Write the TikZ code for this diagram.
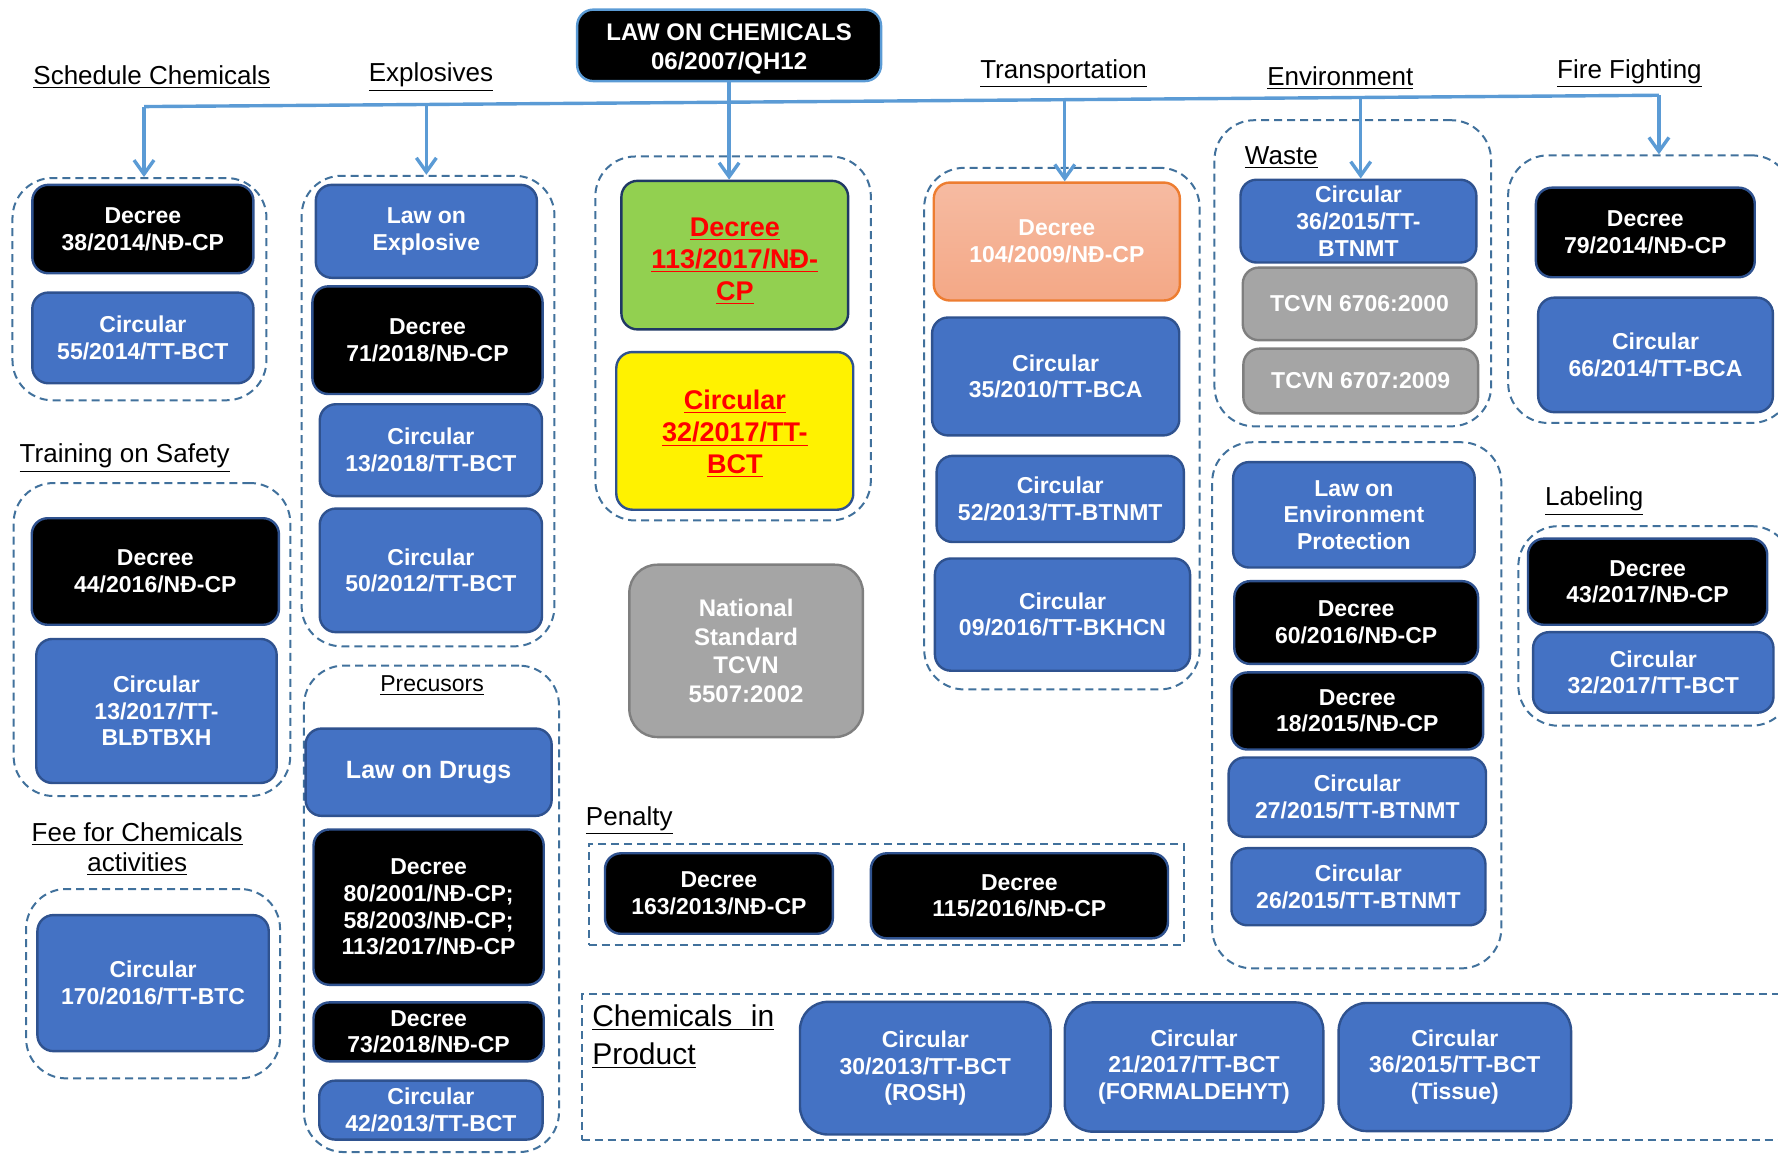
\documentclass[tikz,border=0pt]{standalone}
\usepackage{fontspec}
\setmainfont{Liberation Sans}
\usetikzlibrary{arrows.meta}
\definecolor{boxblue}{HTML}{4472C4}
\definecolor{boxline}{HTML}{2F528F}
\definecolor{grpline}{HTML}{41719C}
\definecolor{busblue}{HTML}{5B9BD5}
\definecolor{keygreen}{HTML}{92D050}
\definecolor{keyline}{HTML}{1F3864}
\definecolor{stdgrey}{HTML}{A5A5A5}
\definecolor{stdline}{HTML}{7F7F7F}
\definecolor{salmontop}{HTML}{F6BBA2}
\definecolor{salmonbot}{HTML}{F4A886}
\definecolor{salmonline}{HTML}{ED7D31}
\tikzset{
  box/.style={draw=boxline, line width=1.2pt, rounded corners=8pt, inner sep=0pt,
    align=center, text=white, font=\bfseries\fontsize{11.5}{13.3}\selectfont},
  decree/.style={box, fill=black},
  circular/.style={box, fill=boxblue},
  stdbox/.style={box, fill=stdgrey, draw=stdline},
  keybox/.style={box, draw=keyline, text=red, font=\bfseries\fontsize{13.5}{16}\selectfont},
  grp/.style={draw=grpline, line width=1pt, dash pattern=on 4pt off 2.5pt,
    rounded corners=20pt, inner sep=0pt},
  head/.style={font=\fontsize{13}{15}\selectfont, inner sep=0pt, align=center},
  drop/.style={busblue, line width=1.7pt, ->},
  sz/.style 2 args={minimum width={#1*0.567pt}, minimum height={#2*0.567pt}},
}
\begin{document}
\begin{tikzpicture}[x=0.567pt,y=-0.567pt,>={Straight Barb[length=7pt,width=10pt]}]
\useasboundingbox (0,0) rectangle (1568,1018);
% dashed groups
\node [grp, sz={224}{196}] (gsched) at (123,255) {};
\node [grp, sz={223}{415}] (gexpl) at (377.5,362.5) {};
\node [grp, sz={243}{321}] (gcent) at (646.5,298.5) {};
\node [grp, sz={243}{460}] (gtrans) at (936.5,378) {};
\node [grp, sz={244}{270}] (gwaste) at (1193,241) {};
\node [grp, sz={250}{236}] (gfire) at (1455,255) {};
\node [grp, sz={244}{276}] (gtrain) at (134,564) {};
\node [grp, sz={224}{167}] (gfee) at (135,867.5) {};
\node [grp, sz={225}{429}] (gprec) at (380.5,801.5) {};
\node [grp, sz={525}{89}, rounded corners=0pt] (gpen) at (781.5,788.5) {};
\node [grp, sz={255}{464}] (genv) at (1196.5,622) {};
\node [grp, sz={241}{176}] (glab) at (1459.5,552) {};
\node [grp, sz={1072}{128}, rounded corners=0pt] (gprod) at (1049,941) {};
% headings
\node [head] (hsched) at (134,68) {\underline{Schedule Chemicals}};
\node [head] (hexpl) at (380,68) {\underline{Explosives}};
\node [head] (htrans) at (938,65) {\underline{Transportation}};
\node [head] (henv) at (1182,69) {\underline{Environment}};
\node [head] (hfire) at (1437,65) {\underline{Fire Fighting}};
\node [head] (hwaste) at (1130,139) {\underline{Waste}};
\node [head] (htrain) at (110,404) {\underline{Training on Safety}};
\node [head] (hfee) at (121,749) {\underline{Fee for Chemicals}\\\underline{activities}};
\node [head, font=\fontsize{11.5}{13}\selectfont] (hprec) at (381,605) {\underline{Precusors}};
\node [head] (hpen) at (555,724) {\underline{Penalty}};
\node [head] (hlab) at (1406,442) {\underline{Labeling}};
\node [head, anchor=north west, align=left, font=\fontsize{15}{19}\selectfont] (hprod) at (522,886)
  {\underline{\makebox[91pt][s]{Chemicals\hfill in}}\\\underline{Product}};
% law
\node [decree, draw=busblue, font=\bfseries\fontsize{12}{14.2}\selectfont, sz={268}{63}] (law) at (643,40)
  {\rule{0pt}{12pt}LAW ON CHEMICALS\\06/2007/QH12};
% schedule chemicals
\node [decree, sz={195}{78}] (d38) at (126,202) {Decree\\38/2014/NĐ-CP};
\node [circular, sz={195}{80}] (c55) at (126,298) {Circular\\55/2014/TT-BCT};
% explosives
\node [circular, sz={195}{82}] (lexp) at (376,204) {Law on\\Explosive};
\node [decree, sz={203}{95}] (d71) at (377,300) {Decree\\71/2018/NĐ-CP};
\node [circular, sz={196}{81}] (c13b) at (380,397) {Circular\\13/2018/TT-BCT};
\node [circular, sz={196}{109}] (c50) at (380,503) {Circular\\50/2012/TT-BCT};
% centre
\node [keybox, fill=keygreen, sz={200}{131}] (d113) at (648,225)
  {\rule{0pt}{15pt}\underline{Decree}\\\underline{113/2017/NĐ-}\\\underline{CP}};
\node [keybox, fill=yellow, draw=boxline, sz={209}{139}] (c32) at (648,380)
  {\rule{0pt}{13pt}\underline{Circular}\\\underline{32/2017/TT-}\\\underline{BCT}};
\node [stdbox, font=\bfseries\fontsize{12}{14.4}\selectfont, rounded corners=14pt, sz={206}{152}] (t5507) at (658,574)
  {National\\Standard\\TCVN\\5507:2002};
% transportation
\node [box, draw=salmonline, top color=salmontop, bottom color=salmonbot, sz={217}{104}] (d104) at (932,213)
  {Decree\\104/2009/NĐ-CP};
\node [circular, sz={218}{104}] (c35) at (931,332) {Circular\\35/2010/TT-BCA};
\node [circular, sz={218}{76}] (c52) at (935,440) {Circular\\52/2013/TT-BTNMT};
\node [circular, sz={225}{99}] (c09) at (937,542) {Circular\\09/2016/TT-BKHCN};
% waste
\node [circular, sz={208}{73}] (c36w) at (1198,195) {Circular\\36/2015/TT-\\BTNMT};
\node [stdbox, sz={206}{64}] (t6706) at (1199,268) {TCVN 6706:2000};
\node [stdbox, sz={207}{57}] (t6707) at (1200,336) {TCVN 6707:2009};
% fire fighting
\node [decree, sz={193}{79}] (d79) at (1451,205) {Decree\\79/2014/NĐ-CP};
\node [circular, sz={207}{101}] (c66) at (1460,313) {Circular\\66/2014/TT-BCA};
% training
\node [decree, sz={218}{94}] (d44) at (137,504) {Decree\\44/2016/NĐ-CP};
\node [circular, sz={212}{127}] (c1317) at (138,627) {Circular\\13/2017/TT-\\BLĐTBXH};
% fee
\node [circular, sz={204}{120}] (c170) at (135,867) {Circular\\170/2016/TT-BTC};
% precursors
\node [circular, font=\bfseries\fontsize{12.5}{14}\selectfont, sz={217}{77}] (ldrug) at (378,681) {Law on Drugs};
\node [decree, sz={203}{137}] (d80) at (378,800) {Decree\\80/2001/NĐ-CP;\\58/2003/NĐ-CP;\\113/2017/NĐ-CP};
\node [decree, sz={203}{52}] (d73) at (378,910) {Decree\\73/2018/NĐ-CP};
\node [circular, sz={197}{52}] (c42) at (380,979) {Circular\\42/2013/TT-BCT};
% penalty
\node [decree, sz={201}{71}] (d163) at (634,788) {Decree\\163/2013/NĐ-CP};
\node [decree, sz={262}{75}] (d115) at (899,790) {Decree\\115/2016/NĐ-CP};
% environment protection
\node [circular, sz={213}{93}] (lenv) at (1194,454) {Law on\\Environment\\Protection};
\node [decree, sz={215}{73}] (d60) at (1196,549) {Decree\\60/2016/NĐ-CP};
\node [decree, sz={222}{68}] (d18) at (1197,627) {Decree\\18/2015/NĐ-CP};
\node [circular, sz={227}{70}] (c27) at (1197,703) {Circular\\27/2015/TT-BTNMT};
\node [circular, sz={224}{68}] (c26) at (1198,782) {Circular\\26/2015/TT-BTNMT};
% labeling
\node [decree, sz={211}{76}] (d43) at (1453,513) {Decree\\43/2017/NĐ-CP};
\node [circular, sz={212}{71}] (c32l) at (1458,593) {Circular\\32/2017/TT-BCT};
% chemicals in product
\node [circular, rounded corners=14pt, sz={221}{117}] (c30) at (816,942) {Circular\\30/2013/TT-BCT\\(ROSH)};
\node [circular, rounded corners=14pt, sz={228}{114}] (c21) at (1053,941) {Circular\\21/2017/TT-BCT\\(FORMALDEHYT)};
\node [circular, rounded corners=14pt, sz={205}{113}] (c36p) at (1283,941) {Circular\\36/2015/TT-BCT\\(Tissue)};
% bus and drops
\coordinate (b1) at (127,94);
\coordinate (b2) at (376,92);
\coordinate (b4) at (939,88);
\coordinate (b5) at (1200,87);
\coordinate (b6) at (1463,84);
\draw [busblue, line width=1.7pt] (b1) -- (b6);
\path (b1) edge [drop] (b1 |- gsched.north);
\path (b2) edge [drop] (b2 |- gexpl.north);
\path (law.south) edge [drop] (law.south |- d113.north);
\path (b4) edge [drop] (b4 |- d104.north);
\path (b5) edge [drop] (b5 |- c36w.north);
\path (b6) edge [drop] (b6 |- gfire.north);
\end{tikzpicture}
\end{document}
